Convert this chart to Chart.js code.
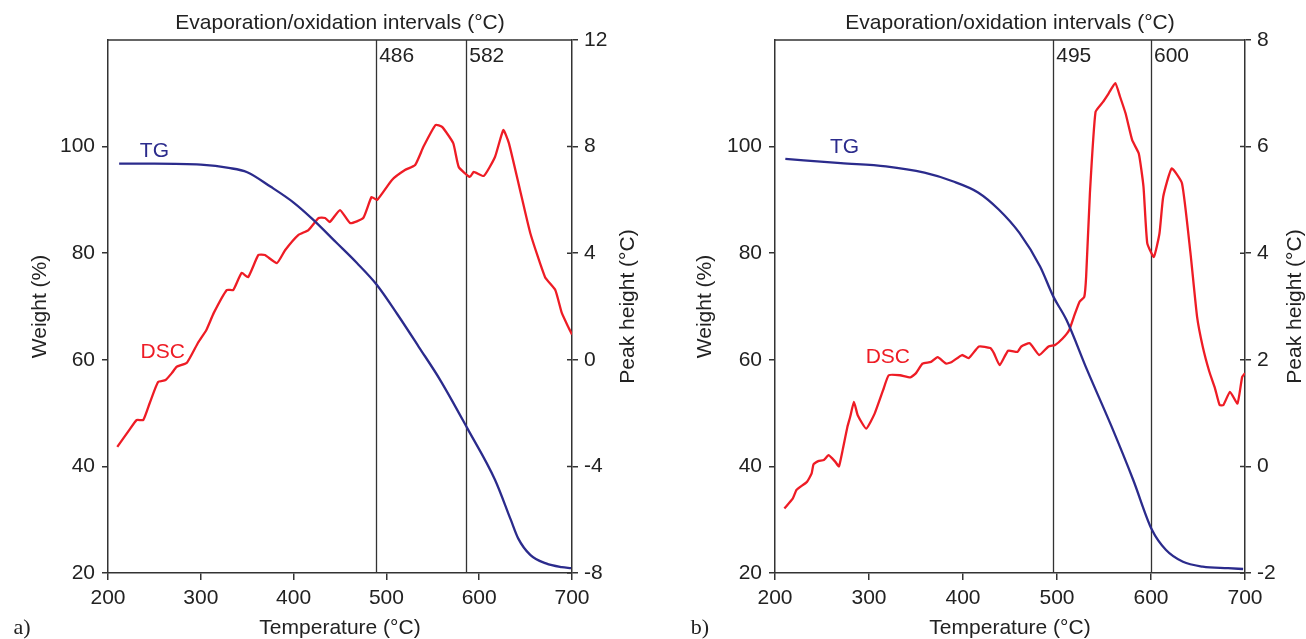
<!DOCTYPE html>
<html>
<head>
<meta charset="utf-8">
<script src="https://cdn.jsdelivr.net/npm/chart.js@4"></script>
<style>
  body { margin: 0; background: #fff; width: 1306px; height: 639px; overflow: hidden; }
  .panel { position: absolute; top: 0; width: 653px; height: 639px; }
</style>
</head>
<body>
<div class="panel" style="left:0"><canvas id="chartA" width="653" height="639"></canvas></div>
<div class="panel" style="left:653px"><canvas id="chartB" width="653" height="639"></canvas></div>
<script>
// eixo X comum
const tempTicks = [200, 300, 400, 500, 600, 700]

// painel a) - TG (peso %) e DSC (altura do pico °C)
const tgATemp = [212, 250, 300, 330, 350, 375, 400, 421, 446, 468, 490, 512, 535, 558, 588, 617, 634, 642, 655, 672, 689, 699]
const tgAWeight = [96.8, 96.8, 96.6, 96.0, 95.2, 92.5, 89.5, 86.3, 82.0, 78.2, 74.0, 68.5, 62.4, 56.2, 46.9, 37.5, 30.0, 26.5, 23.4, 21.8, 21.1, 20.9]
const dscATemp = [210, 223, 231, 238, 245, 254, 262, 269, 274, 285, 297, 306, 314, 328, 335, 344, 351, 362, 369, 382, 391, 405, 416, 427, 434, 439, 450, 461, 475, 484, 490, 506, 520, 531, 540, 553, 560, 572, 578, 590, 594, 605, 617, 626, 632, 644, 655, 671, 682, 689, 696, 700]
const dscAPeak = [-3.27, -2.63, -2.26, -2.26, -1.62, -0.83, -0.76, -0.49, -0.26, -0.11, 0.64, 1.12, 1.76, 2.62, 2.62, 3.26, 3.10, 3.93, 3.93, 3.63, 4.12, 4.68, 4.87, 5.32, 5.32, 5.17, 5.62, 5.13, 5.32, 6.11, 6.00, 6.75, 7.12, 7.31, 8.00, 8.81, 8.74, 8.13, 7.23, 6.86, 7.05, 6.90, 7.61, 8.62, 8.13, 6.37, 4.76, 3.10, 2.62, 1.76, 1.23, 0.95]
const intervalLinesA = [489, 586]
const intervalLabelsA = ['486', '582']

// painel b)
const tgBTemp = [211, 270, 318, 359, 389, 416, 438, 460, 482, 496, 510, 532, 558, 581, 601, 616, 634, 655, 682, 698]
const tgBWeight = [97.7, 96.9, 96.3, 95.1, 93.5, 91.4, 88.2, 83.8, 77.5, 71.9, 67.5, 58.1, 47.5, 37.5, 28.1, 24.3, 22.1, 21.2, 20.9, 20.75]
const dscBTemp = [210, 219, 223, 234, 239, 241, 246, 252, 257, 264, 268, 272, 277, 280, 284, 288, 297, 306, 315, 321, 333, 344, 350, 357, 366, 373, 382, 388, 399, 406, 417, 429, 433, 439, 448, 458, 462, 471, 481, 491, 498, 506, 513, 518, 524, 529, 531, 535, 541, 549, 555, 562, 567, 573, 580, 587, 592, 596, 603, 609, 613, 622, 633, 642, 649, 655, 662, 668, 673, 677, 684, 692, 697, 700]
const dscBPeak = [-0.79, -0.60, -0.44, -0.29, -0.13, 0.04, 0.10, 0.12, 0.21, 0.09, 0.00, 0.31, 0.74, 0.93, 1.21, 0.96, 0.71, 0.99, 1.43, 1.71, 1.71, 1.67, 1.75, 1.93, 1.96, 2.05, 1.93, 1.96, 2.09, 2.03, 2.25, 2.22, 2.12, 1.90, 2.17, 2.15, 2.25, 2.31, 2.09, 2.25, 2.28, 2.40, 2.56, 2.81, 3.09, 3.18, 3.56, 5.12, 6.65, 6.84, 7.00, 7.19, 6.94, 6.62, 6.12, 5.87, 5.25, 4.19, 3.93, 4.37, 5.06, 5.59, 5.31, 4.00, 2.81, 2.25, 1.78, 1.47, 1.15, 1.15, 1.40, 1.18, 1.68, 1.75]
const intervalLinesB = [496, 600]
const intervalLabelsB = ['495', '600']

const FONT = "'Liberation Sans', Arial, sans-serif"
const axisColor = '#333333'
const tgColor = '#2b2b8c'
const dscColor = '#ee1c25'

function toPoints(xs, ys) {
  return xs.map((x, i) => ({ x: x, y: ys[i] }))
}

// desenha moldura, linhas dos intervalos e textos
const decorPlugin = {
  id: 'decor',
  beforeDatasetsDraw(chart, args, opts) {
    const { ctx, chartArea: a, scales } = chart
    ctx.save()
    ctx.strokeStyle = axisColor
    ctx.lineWidth = 1.3
    ctx.beginPath()
    opts.lines.forEach(v => {
      const px = Math.round(scales.x.getPixelForValue(v)) + 0.5
      ctx.moveTo(px, a.top)
      ctx.lineTo(px, a.bottom)
    })
    ctx.stroke()
    ctx.restore()
  },
  afterDraw(chart, args, opts) {
    const { ctx, chartArea: a, scales } = chart
    const yR = scales.y2
    ctx.save()
    ctx.strokeStyle = axisColor
    ctx.lineWidth = 1.5
    ctx.beginPath()
    ctx.moveTo(a.left, a.top)
    ctx.lineTo(a.right, a.top)
    // metade interna dos ticks da direita
    yR.ticks.forEach(t => {
      const py = yR.getPixelForValue(t.value)
      ctx.moveTo(a.right - 5, py)
      ctx.lineTo(a.right, py)
    })
    ctx.stroke()

    ctx.fillStyle = '#222'
    ctx.font = '21px ' + FONT
    ctx.textBaseline = 'middle'
    ctx.textAlign = 'center'
    const cx = (a.left + a.right) / 2
    ctx.fillText('Evaporation/oxidation intervals (°C)', cx, 23)
    ctx.fillText('Temperature (°C)', cx, 628)

    // rótulos das linhas verticais
    ctx.textAlign = 'left'
    opts.lines.forEach((v, i) => {
      ctx.fillText(opts.lineLabels[i], scales.x.getPixelForValue(v) + 3, 56)
    })

    // títulos dos eixos verticais (lidos de baixo para cima)
    ctx.textAlign = 'center'
    const cy = (a.top + a.bottom) / 2
    ;[[opts.leftTitleX, 'Weight (%)'], [opts.rightTitleX, 'Peak height (°C)']].forEach(([tx, label]) => {
      ctx.save()
      ctx.translate(tx, cy)
      ctx.rotate(-Math.PI / 2)
      ctx.fillText(label, 0, 0)
      ctx.restore()
    })

    // nomes das curvas
    opts.curveLabels.forEach(l => {
      ctx.fillStyle = l.color
      ctx.fillText(l.text, scales.x.getPixelForValue(l.x), scales.y.getPixelForValue(l.y))
    })

    ctx.fillStyle = '#222'
    ctx.font = '22px "Liberation Serif", serif'
    ctx.fillText(opts.panel, opts.panelX, 628)
    ctx.restore()
  }
}

function makeChart(id, cfg) {
  const tickFont = { family: FONT, size: 21 }
  return new Chart(document.getElementById(id), {
    type: 'line',
    data: {
      datasets: [
        {
          label: 'TG',
          data: toPoints(cfg.tgTemp, cfg.tgWeight),
          yAxisID: 'y',
          borderColor: tgColor,
          borderWidth: 2.3,
          pointRadius: 0,
          tension: 0.4,
          cubicInterpolationMode: 'monotone'
        },
        {
          label: 'DSC',
          data: toPoints(cfg.dscTemp, cfg.dscPeak),
          yAxisID: 'y2',
          borderColor: dscColor,
          borderWidth: 2.3,
          pointRadius: 0,
          tension: 0.15
        }
      ]
    },
    options: {
      responsive: false,
      animation: false,
      layout: { padding: { top: 40, left: 0, right: 0, bottom: 0 } },
      plugins: {
        legend: { display: false },
        tooltip: { enabled: false },
        decor: {
          lines: cfg.lines,
          lineLabels: cfg.lineLabels,
          leftTitleX: cfg.leftTitleX,
          rightTitleX: cfg.rightTitleX,
          curveLabels: cfg.curveLabels,
          panel: cfg.panel,
          panelX: cfg.panelX
        }
      },
      scales: {
        x: {
          type: 'linear',
          min: 200,
          max: 700,
          afterBuildTicks: s => { s.ticks = tempTicks.map(v => ({ value: v })) },
          afterFit: s => { s.height = 66 },
          border: { color: axisColor, width: 1.5 },
          grid: { drawOnChartArea: false, tickLength: 7, color: axisColor, lineWidth: 1.5 },
          ticks: { font: tickFont, color: '#222', padding: 6, maxRotation: 0, autoSkip: false }
        },
        y: {
          position: 'left',
          min: 20,
          max: 120,
          afterFit: s => { s.width = cfg.leftWidth },
          border: { color: axisColor, width: 1.5 },
          grid: {
            drawOnChartArea: false,
            tickLength: 6,
            lineWidth: 1.5,
            color: c => (c.tick && c.tick.value === 120 ? 'rgba(0,0,0,0)' : axisColor)
          },
          ticks: {
            stepSize: 20,
            font: tickFont,
            color: '#222',
            padding: 7,
            callback: v => (v === 120 ? '' : v)
          }
        },
        y2: {
          position: 'right',
          min: cfg.peakMin,
          max: cfg.peakMax,
          afterFit: s => { s.width = cfg.rightWidth },
          border: { color: axisColor, width: 1.5 },
          grid: { drawOnChartArea: false, tickLength: 6, color: axisColor, lineWidth: 1.5 },
          ticks: { stepSize: cfg.peakStep, font: tickFont, color: '#222', padding: 6 }
        }
      }
    },
    plugins: [decorPlugin]
  })
}

makeChart('chartA', {
  tgTemp: tgATemp, tgWeight: tgAWeight,
  dscTemp: dscATemp, dscPeak: dscAPeak,
  lines: intervalLinesA, lineLabels: intervalLabelsA,
  peakMin: -8, peakMax: 12, peakStep: 4,
  leftWidth: 108, rightWidth: 81,
  leftTitleX: 40, rightTitleX: 628,
  curveLabels: [
    { text: 'TG', x: 250, y: 99.1, color: tgColor },
    { text: 'DSC', x: 259, y: 61.5, color: dscColor }
  ],
  panel: 'a)', panelX: 22
})

makeChart('chartB', {
  tgTemp: tgBTemp, tgWeight: tgBWeight,
  dscTemp: dscBTemp, dscPeak: dscBPeak,
  lines: intervalLinesB, lineLabels: intervalLabelsB,
  peakMin: -2, peakMax: 8, peakStep: 2,
  leftWidth: 122, rightWidth: 61,
  leftTitleX: 52, rightTitleX: 642,
  curveLabels: [
    { text: 'TG', x: 274, y: 99.8, color: tgColor },
    { text: 'DSC', x: 320, y: 60.4, color: dscColor }
  ],
  panel: 'b)', panelX: 47
})
</script>
</body>
</html>
